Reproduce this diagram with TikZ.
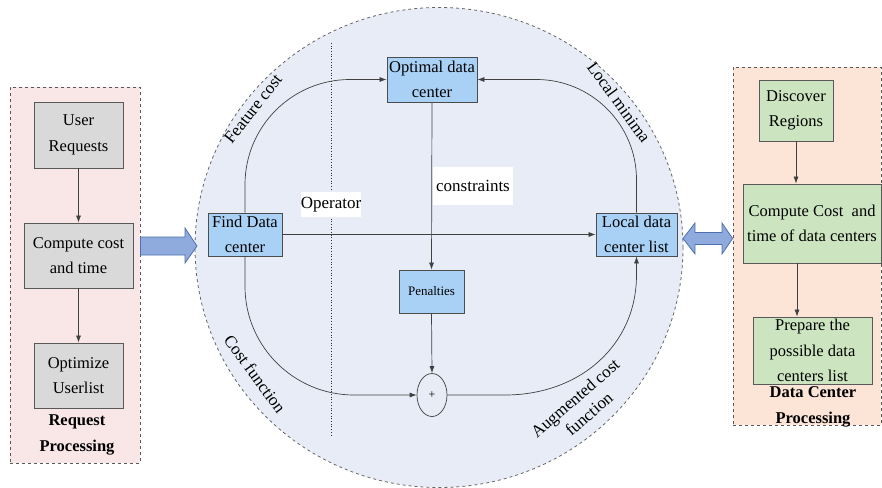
\documentclass[tikz,border=0pt]{standalone}
\usepackage{xcolor}
\usepackage{fontspec}
\setmainfont{Liberation Serif}
\usepackage{tikz}
\usetikzlibrary{shapes.geometric,arrows.meta}

\definecolor{reqback}{HTML}{F9E7E7}
\definecolor{dcback}{HTML}{FCE4D6}
\definecolor{cirback}{HTML}{E8ECF6}
\definecolor{grayfill}{HTML}{D9D9D9}
\definecolor{bluefill}{HTML}{A9D1F5}
\definecolor{greenfill}{HTML}{CCE5C0}
\definecolor{fatfill}{HTML}{8FAADC}
\definecolor{fatline}{HTML}{4F6FB0}

\tikzset{
	txt/.style={font=\fontsize{16.5}{25.5}\selectfont, align=center, inner sep=0pt},
	area/.style={draw=black!65, dashed, line width=0.8pt, inner sep=0pt},
	graybox/.style={txt, draw=black!65, fill=grayfill, line width=0.8pt},
	bluebox/.style={txt, draw=black!70, fill=bluefill, line width=0.8pt},
	greenbox/.style={txt, draw=black!65, fill=greenfill, line width=0.8pt},
	flow/.style={draw=black!75, line width=0.7pt, -{Latex[length=7pt,width=5pt]}},
	fat/.style={fill=fatfill, draw=fatline, line width=0.8pt},
	tag/.style={txt, font=\fontsize{17}{21}\selectfont},
	title/.style={txt, font=\fontsize{16.5}{25.5}\selectfont\bfseries},
}

\begin{document}
\begin{tikzpicture}[x=1pt, y=-1pt]
	\useasboundingbox (0,0) rectangle (882,487);

	% left part
	\node[area, fill=reqback, minimum width=130, minimum height=376] (reqarea) at (75,275) {};
	\node[graybox, minimum width=89, minimum height=66] (user) at (78.5,135) {User\\Requests};
	\node[graybox, minimum width=109, minimum height=65] (compute) at (78.5,255.5) {Compute cost\\and time};
	\node[graybox, minimum width=89, minimum height=65] (optimize) at (78.5,375.5) {Optimize\\Userlist};
	\node[title] (reqtitle) at (77,435) {Request\\Processing};
	\draw[flow] (user) -- (compute);
	\draw[flow] (compute) -- (optimize);

	% middle part
	\node[ellipse, draw=black!60, dashed, line width=0.8pt, fill=cirback, minimum width=488, minimum height=480] (circ) at (439,247.5) {};
	\draw[black!80, dotted, line width=0.7pt] (331,43) -- (331,435);

	\node[bluebox, minimum width=90, minimum height=45] (optimal) at (432,79.5) {Optimal data\\center};
	\node[bluebox, minimum width=74, minimum height=43] (find) at (245,234.5) {Find Data\\center};
	\node[bluebox, minimum width=81, minimum height=43] (local) at (636.5,234.5) {Local data\\center list};
	\node[bluebox, minimum width=65, minimum height=43, font=\fontsize{13}{16}\selectfont] (penal) at (431.5,291.5) {Penalties};
	\node[ellipse, draw=black!75, fill=cirback, line width=0.7pt, minimum width=30, minimum height=43, inner sep=0pt, font=\fontsize{12}{14}\selectfont] (plus) at (432,395) {+};

	\node[tag, fill=white, minimum width=58, minimum height=25] (operator) at (331,204.5) {Operator};
	\node[tag, fill=white, minimum width=80, minimum height=38] (constr) at (473,186) {constraints};

	% ends of the bends
	\coordinate (tl) at (350,79.5);
	\coordinate (tr) at (536.5,79.5);
	\coordinate (bl) at (354,395);
	\coordinate (br) at (505,395);
	\coordinate (brend) at (636.5,275);

	\draw[flow] (find.north) -- ++(0,-28) .. controls +(0,-58) and +(-58,0) .. (tl) -- (optimal.west);
	\draw[flow] (local.north) -- ++(0,-33) .. controls +(0,-55) and +(55,0) .. (tr) -- (optimal.east);
	\draw[flow] (find.east) -- (local.west);
	\draw[flow] (optimal.south) -- (penal.north);
	\draw[flow] (penal.south) -- (plus.north);
	\draw[flow] (find.south) -- ++(0,30) .. controls +(0,60) and +(-60,0) .. (bl) -- (plus.west);
	\draw[flow] (plus.east) -- (br) .. controls +(75,0) and +(0,70) .. (brend) -- (local.south);

	\node[tag, rotate=52] (featlbl) at (253,109) {Feature cost};
	\node[tag, rotate=-54] (minlbl) at (619,102) {Local minima};
	\node[tag, rotate=-54] (costlbl) at (255,374) {Cost function};
	\node[tag, rotate=41] (auglbl) at (582,406) {Augmented cost\\function};

	% right part
	\node[area, fill=dcback, minimum width=148, minimum height=358] (dcarea) at (807,246) {};
	\node[greenbox, minimum width=74, minimum height=61] (discover) at (796,110.5) {Discover\\Regions};
	\node[greenbox, minimum width=138, minimum height=79] (costdc) at (812,223.5) {Compute Cost\ \ and\\time of data centers};
	\node[greenbox, minimum width=119, minimum height=67] (prepare) at (812.5,350.5) {Prepare the\\possible data\\centers list};
	\node[title] (dctitle) at (813,407) {Data Center\\Processing};
	\draw[flow] (discover.south) -- (discover.south |- costdc.north);
	\draw[flow] (costdc.south -| 797,0) -- (prepare.north -| 797,0);

	% fat arrows
	\draw[fat] (reqarea.east |- 0,237) -- (185,237) -- (185,228) -- (197,246)
		-- (185,263) -- (185,255) -- (reqarea.east |- 0,255) -- cycle;
	\draw[fat] (683,238.5) -- (695,223) -- (695,232.5) -- (722,232.5) -- (722,223)
		-- (dcarea.west |- 0,238.5) -- (722,254) -- (722,244.5) -- (695,244.5) -- (695,254) -- cycle;
\end{tikzpicture}
\end{document}
